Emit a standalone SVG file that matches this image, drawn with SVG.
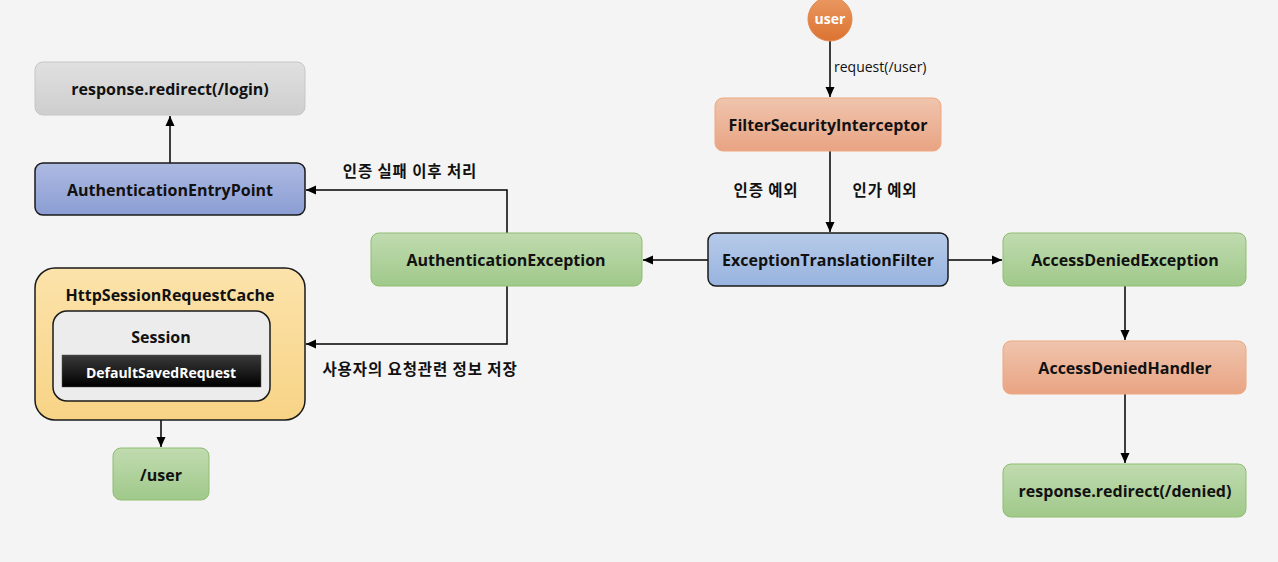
<svg xmlns="http://www.w3.org/2000/svg" width="1278" height="562" viewBox="0 0 1278 562">
<defs>
<linearGradient id="gGreen" x1="0" y1="0" x2="0" y2="1"><stop offset="0" stop-color="#c0dbb0"/><stop offset="1" stop-color="#a0c98a"/></linearGradient>
<linearGradient id="gSalmon" x1="0" y1="0" x2="0" y2="1"><stop offset="0" stop-color="#efc4ad"/><stop offset="1" stop-color="#e9a483"/></linearGradient>
<linearGradient id="gBlue1" x1="0" y1="0" x2="0" y2="1"><stop offset="0" stop-color="#adbae2"/><stop offset="1" stop-color="#8b9dd3"/></linearGradient>
<linearGradient id="gBlue2" x1="0" y1="0" x2="0" y2="1"><stop offset="0" stop-color="#b7cbea"/><stop offset="1" stop-color="#97b3de"/></linearGradient>
<linearGradient id="gGray" x1="0" y1="0" x2="0" y2="1"><stop offset="0" stop-color="#e0e0e0"/><stop offset="1" stop-color="#cecece"/></linearGradient>
<linearGradient id="gYellow" x1="0" y1="0" x2="0" y2="1"><stop offset="0" stop-color="#fce3ab"/><stop offset="1" stop-color="#f7d385"/></linearGradient>
<linearGradient id="gBlack" x1="0" y1="0" x2="0" y2="1"><stop offset="0" stop-color="#3a3a3a"/><stop offset="1" stop-color="#000000"/></linearGradient>
<linearGradient id="gOrange" x1="0" y1="0" x2="0" y2="1"><stop offset="0" stop-color="#ea9862"/><stop offset="1" stop-color="#dc7331"/></linearGradient>
<marker id="arr" viewBox="0 0 10 10" refX="10" refY="5" markerWidth="10" markerHeight="10" markerUnits="userSpaceOnUse" orient="auto">
<path d="M0,0.5 L10,5 L0,9.5 Z" fill="#000"/>
</marker>
<style>
.lbl{font-family:"Open Sans","Liberation Sans",sans-serif;font-weight:bold;font-size:16px;fill:#111;text-anchor:middle;dominant-baseline:central}
.ko{font-family:"Noto Sans CJK KR",sans-serif;font-weight:bold;font-size:15.5px;letter-spacing:0.9px;fill:#111;text-anchor:middle;dominant-baseline:central}
.sm{font-family:"Open Sans","Liberation Sans",sans-serif;font-size:14px;fill:#111;dominant-baseline:central}
.edge{fill:none;stroke:#000;stroke-width:1.5;marker-end:url(#arr)}
.green{fill:url(#gGreen);stroke:#8fbd72;stroke-width:1}
.salmon{fill:url(#gSalmon);stroke:#eda880;stroke-width:1}
</style>
</defs>
<rect width="1278" height="562" fill="#f4f4f4"/>

<g id="connectors">
<path class="edge" d="M830,41 L830,97"/>
<path class="edge" d="M830,151 L830,232"/>
<path class="edge" d="M708,260 L643,260"/>
<path class="edge" d="M948,260 L1002,260"/>
<path class="edge" d="M1125,286 L1125,340"/>
<path class="edge" d="M1125,394 L1125,463"/>
<path class="edge" d="M507,233 L507,190 L306,190"/>
<path class="edge" d="M507,286 L507,344 L306,344"/>
<path class="edge" d="M170,163 L170,116"/>
<path class="edge" d="M161,387 L161,447"/>
<text class="sm" x="834" y="66">request(/user)</text>
<text class="ko" x="766" y="189">인증 예외</text>
<text class="ko" x="885" y="189">인가 예외</text>
<text class="ko" x="410" y="170">인증 실패 이후 처리</text>
<text class="ko" x="420" y="368">사용자의 요청관련 정보 저장</text>
</g>

<g id="user">
<circle cx="830" cy="19" r="22" fill="url(#gOrange)" stroke="#e0874a" stroke-width="1"/>
<text class="lbl" x="830" y="18" style="fill:#fff;font-size:14px">user</text>
</g>
<g id="filterSecurityInterceptor">
<rect class="salmon" x="715" y="98" width="226" height="53" rx="8"/>
<text class="lbl" x="828" y="125">FilterSecurityInterceptor</text>
</g>
<g id="exceptionTranslationFilter">
<rect x="708" y="233" width="240" height="53" rx="8" fill="url(#gBlue2)" stroke="#1a1a1a" stroke-width="1.5"/>
<text class="lbl" x="828" y="260">ExceptionTranslationFilter</text>
</g>
<g id="authenticationException">
<rect class="green" x="371" y="233" width="271" height="53" rx="8"/>
<text class="lbl" x="506" y="260">AuthenticationException</text>
</g>
<g id="accessDeniedException">
<rect class="green" x="1003" y="233" width="243" height="53" rx="8"/>
<text class="lbl" x="1125" y="260">AccessDeniedException</text>
</g>
<g id="accessDeniedHandler">
<rect class="salmon" x="1003" y="341" width="243" height="53" rx="8"/>
<text class="lbl" x="1125" y="368">AccessDeniedHandler</text>
</g>
<g id="redirectDenied">
<rect class="green" x="1003" y="464" width="243" height="53" rx="8"/>
<text class="lbl" x="1125" y="491">response.redirect(/denied)</text>
</g>
<g id="redirectLogin">
<rect x="35" y="62" width="270" height="53" rx="8" fill="url(#gGray)" stroke="#c6c6c6" stroke-width="1"/>
<text class="lbl" x="170" y="89">response.redirect(/login)</text>
</g>
<g id="authenticationEntryPoint">
<rect x="35" y="163" width="270" height="52" rx="8" fill="url(#gBlue1)" stroke="#1a1a1a" stroke-width="1.5"/>
<text class="lbl" x="170" y="190">AuthenticationEntryPoint</text>
</g>
<g id="httpSessionRequestCache">
<rect x="35" y="268" width="270" height="152" rx="20" fill="url(#gYellow)" stroke="#1a1a1a" stroke-width="1.5"/>
<text class="lbl" x="170" y="295">HttpSessionRequestCache</text>
</g>
<g id="session">
<rect x="53" y="311" width="217" height="90" rx="14" fill="#ececec" stroke="#1a1a1a" stroke-width="1.5"/>
<text class="lbl" x="161" y="337">Session</text>
</g>
<g id="defaultSavedRequest">
<rect x="62" y="355" width="199" height="32" fill="url(#gBlack)" stroke="#555" stroke-width="0.5"/>
<text class="lbl" x="161" y="372" style="fill:#fff;font-size:14px">DefaultSavedRequest</text>
</g>
<g id="userPath">
<rect class="green" x="113" y="448" width="96" height="52" rx="8"/>
<text class="lbl" x="161" y="475">/user</text>
</g>
</svg>
